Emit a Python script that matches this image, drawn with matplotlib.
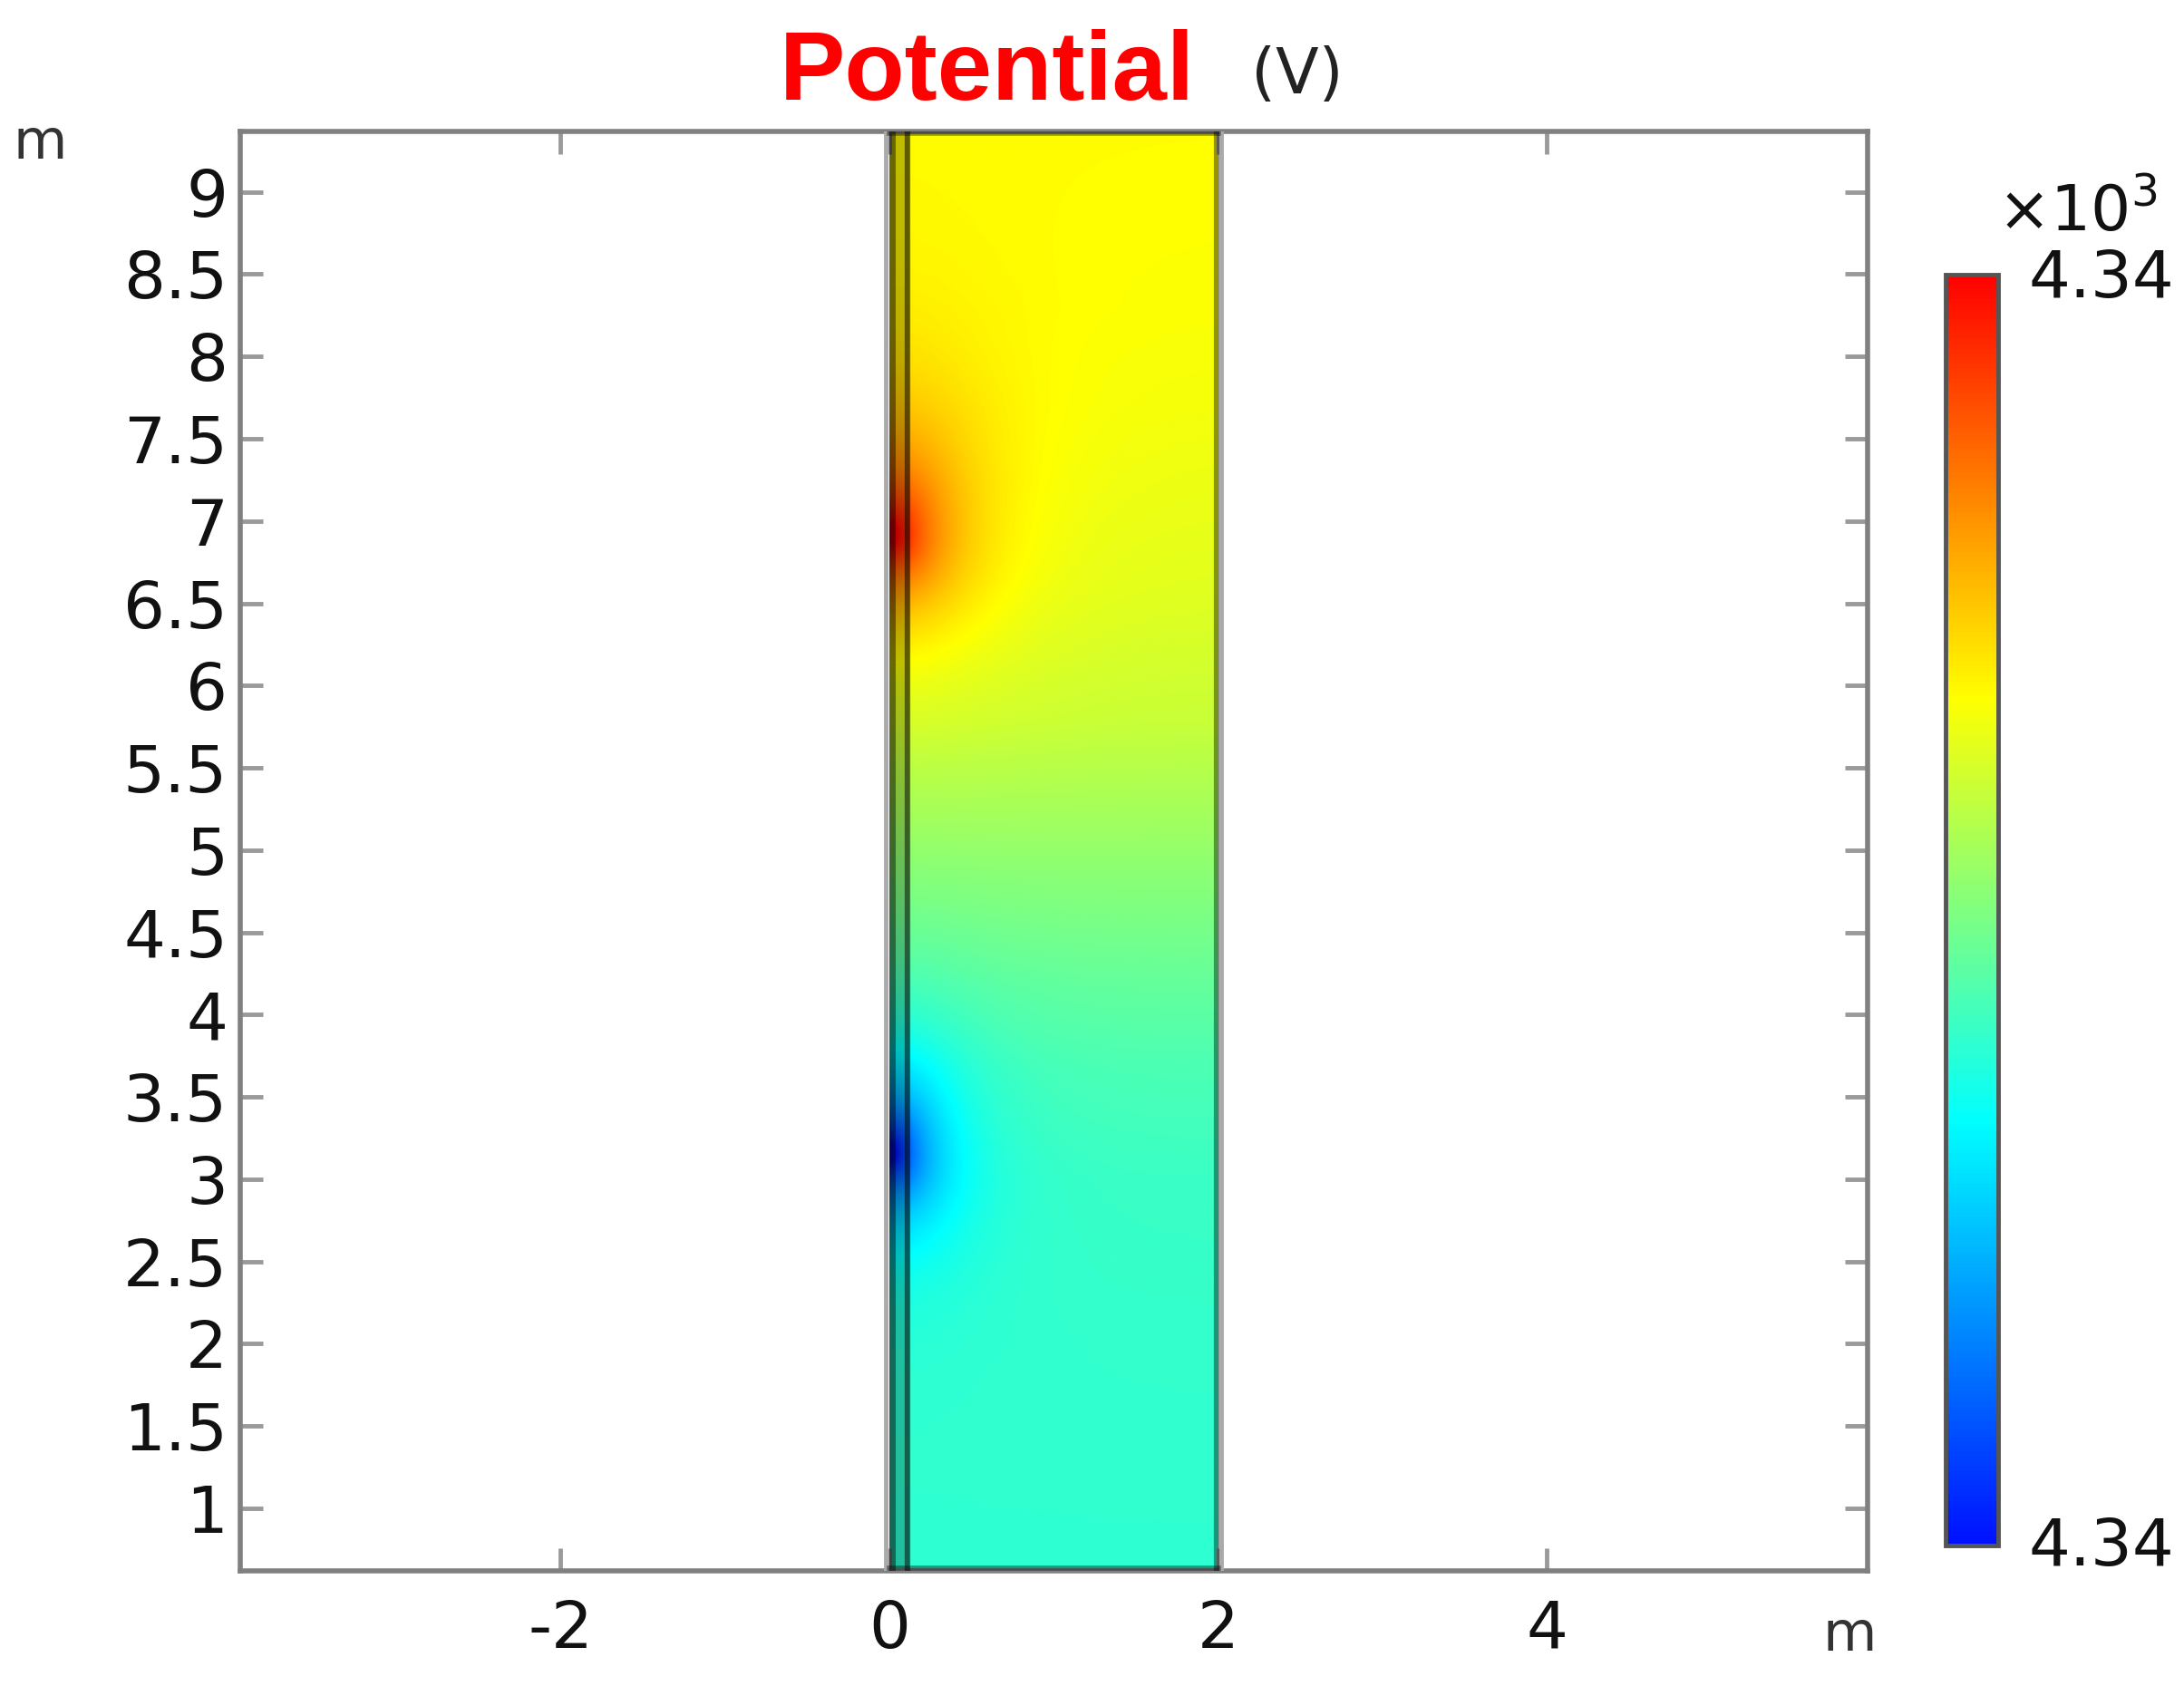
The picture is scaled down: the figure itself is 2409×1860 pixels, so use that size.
import numpy as np
import matplotlib
import matplotlib.pyplot as plt
from matplotlib.colors import LinearSegmentedColormap

plt.rcParams['font.family'] = ['DejaVu Sans']
plt.rcParams['axes.unicode_minus'] = False

# domain and axis extents (m)
x_lim = (-3.95, 5.95)
y_lim = (0.62, 9.37)
domain_x = [0.0, 2.0]
strip_x = [0.0, 0.12]

# background level read along the height (0 = colour bar bottom, 1 = top)
y_prof = [0.62, 2.0, 3.0, 3.7, 4.2, 4.8, 5.3, 5.8, 6.6, 7.7, 8.3, 9.37]
bg_prof = [0.393, 0.40, 0.41, 0.433, 0.465, 0.51, 0.553, 0.594, 0.626, 0.652, 0.661, 0.668]

# hot / cold spots on the left wall: x, y, amplitude, decay, stretch above, stretch below
src_x = [0.0, 0.0]
src_y = [6.91, 3.16]
src_amp = [0.42, -0.48]
src_len = [0.34, 0.255]
src_up = [1.5, 1.6]
src_down = [1.15, 1.3]

v_min, v_max = 4339.6, 4340.4

# colour scale stops
cmap_pos = [0.0, 1 / 3, 2 / 3, 1.0]
cmap_col = ['#0010ff', '#00ffff', '#ffff00', '#ff0000']

xticks = [-2, 0, 2, 4]
yticks = [1, 1.5, 2, 2.5, 3, 3.5, 4, 4.5, 5, 5.5, 6, 6.5, 7, 7.5, 8, 8.5, 9]

# field on the domain
xg = np.linspace(domain_x[0], domain_x[1], 400)
yg = np.linspace(y_lim[0], y_lim[1], 1750)
X, Y = np.meshgrid(xg, yg)
v = np.interp(Y, y_prof, bg_prof)
for sx, sy, a, L, su, sd in zip(src_x, src_y, src_amp, src_len, src_up, src_down):
    s = np.where(Y > sy, su, sd)
    r = np.sqrt((X - sx) ** 2 + ((Y - sy) / s) ** 2)
    v = v + a * np.exp(-r / L)
v = np.clip(v, 0, 1)
V = v_min + v * (v_max - v_min)

cmap = LinearSegmentedColormap.from_list('rainbow_c', list(zip(cmap_pos, cmap_col)))

fig = plt.figure(figsize=(24.09, 18.6), dpi=100)
ax = fig.add_axes([0.110, 0.0683, 0.745, 0.854])
im = ax.imshow(V, extent=[domain_x[0], domain_x[1], y_lim[0], y_lim[1]],
               origin='lower', cmap=cmap, vmin=v_min, vmax=v_max,
               interpolation='bilinear', aspect='auto', zorder=1)

# thin layer at the wall and domain edges
ax.axvspan(strip_x[0], strip_x[1], color='black', alpha=0.25, lw=0, zorder=2)
ax.axvline(strip_x[0] + 0.015, color='black', alpha=0.45, lw=5, zorder=3)
ax.axvline(strip_x[1] - 0.01, color='black', alpha=0.5, lw=4.5, zorder=3)
ax.axvline(domain_x[1] - 0.01, color='black', alpha=0.42, lw=4.5, zorder=3)
for xe in [domain_x[0] - 0.02, domain_x[1] + 0.02]:
    ax.axvline(xe, color='#aaaaaa', lw=3.5, zorder=3)
for ye in [y_lim[0] + 0.015, y_lim[1] - 0.015]:
    ax.plot(domain_x, [ye, ye], color='black', alpha=0.4, lw=4, zorder=3)

ax.set_xlim(x_lim)
ax.set_ylim(y_lim)
ax.set_xticks(xticks)
ax.set_xticklabels([str(t) for t in xticks])
ax.set_yticks(yticks)
ax.set_yticklabels([('%g' % t) for t in yticks])
ax.tick_params(direction='in', top=True, right=True, length=18, width=3.5,
               color='#9a9a9a', labelsize=52, labelcolor='#111111')
ax.tick_params(axis='x', pad=22)
ax.tick_params(axis='y', pad=10)
for sp in ax.spines.values():
    sp.set_color('#808080')
    sp.set_linewidth(4)

# colour bar
cax = fig.add_axes([0.8908, 0.0833, 0.0241, 0.754])
cb = fig.colorbar(im, cax=cax, ticks=[])
cb.outline.set_edgecolor('#555555')
cb.outline.set_linewidth(3.5)
fig.text(0.929, 0.834, '%.2f' % (v_max / 1e3), fontsize=52, va='center', ha='left', color='#111111')
fig.text(0.929, 0.082, '%.2f' % (v_min / 1e3), fontsize=52, va='center', ha='left', color='#111111')
fig.text(0.951, 0.874, r'$\times$10$^3$', fontsize=50, va='center', ha='center', color='#111111')

# title and units
fig.text(0.357, 0.9409, 'Potential', fontsize=78, fontweight='bold', color='#ff0000',
         va='baseline', family=['Liberation Sans', 'DejaVu Sans'])
fig.text(0.573, 0.9446, '(V)', fontsize=50, color='#222222', va='baseline')
fig.text(0.006, 0.915, 'm', fontsize=44, color='#333333', va='center', ha='left')
fig.text(0.847, 0.030, 'm', fontsize=44, color='#333333', va='center', ha='center')

fig.savefig('out.png', dpi=100)
